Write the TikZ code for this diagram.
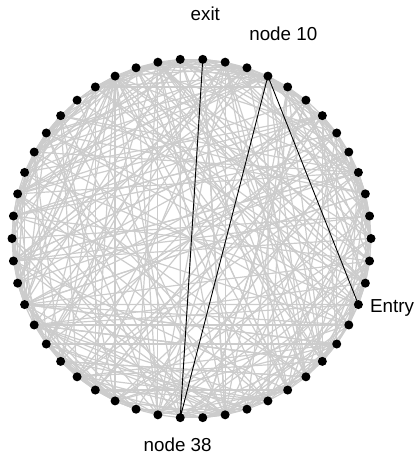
\documentclass[tikz,border=0pt]{standalone}
\usepackage{fontspec}
\setmainfont{Liberation Sans}
\pgfdeclarelayer{edges}
\pgfsetlayers{edges,main}
\tikzset{
  vertex/.style={circle,fill=black,inner sep=0pt,minimum size=9pt},
  link/.style={draw=gray!40,line width=1.2pt},
  route/.style={draw=black,line width=0.9pt},
  tag/.style={inner sep=0pt,font=\fontsize{18.8}{22}\selectfont}
}
\begin{document}
\begin{tikzpicture}[x=1pt,y=-1pt]
\useasboundingbox (0,0) rectangle (415,454);
% 50 vertices evenly spaced on a circle
\foreach \i in {1,...,50}{
  \pgfmathsetmacro{\a}{7.2*(\i-1)}
  \node[vertex] (n\i) at ({191.5+179.5*cos(\a)},{238.5-179.5*sin(\a)}) {};
}
\begin{pgfonlayer}{edges}
  % small-world style graph: ring plus local and random links
  \pgfmathsetseed{1234}
  \foreach \i in {1,...,50}{
    \pgfmathtruncatemacro{\nb}{mod(\i,50)+1}
    \draw[link] (n\i.center) -- (n\nb.center);
    \foreach \j in {2,...,9}{
      \pgfmathsetmacro{\r}{rnd}
      \pgfmathsetmacro{\s}{rnd}
      \pgfmathtruncatemacro{\u}{mod(\i+floor(\s*49),50)+1}
      \pgfmathtruncatemacro{\t}{\r<0.3 ? mod(\i+mod(\j,5),50)+1 : \u}
      \pgfmathtruncatemacro{\t}{\t==\i ? mod(\i+24,50)+1 : \t}
      \draw[link] (n\i.center) -- (n\t.center);
    }
  }
  % highlighted route
  \draw[route] (n48.center) -- (n10.center) -- (n38.center) -- (n13.center);
\end{pgfonlayer}
\node[tag,anchor=base] (lexit) at (205.3,20.7) {exit};
\node[tag,anchor=base] (lten) at (283.3,40.7) {node 10};
\node[tag,anchor=base west] (lentry) at (370,312.3) {Entry};
\node[tag,anchor=base] (lthirtyeight) at (177.7,451) {node 38};
\end{tikzpicture}
\end{document}
